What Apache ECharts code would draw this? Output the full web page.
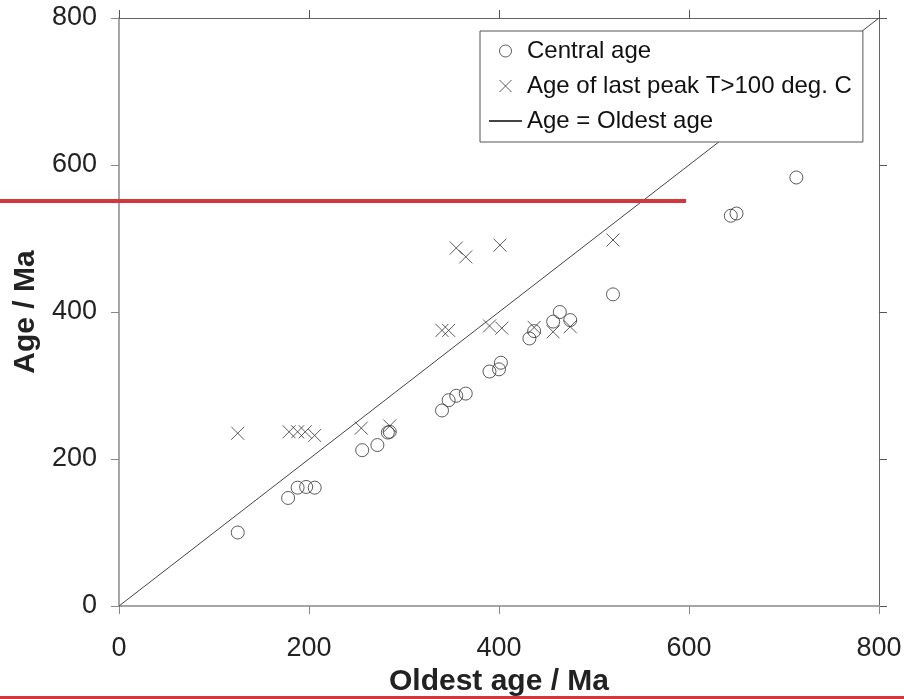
<!DOCTYPE html>
<html>
<head>
<meta charset="utf-8">
<script src="https://cdn.jsdelivr.net/npm/echarts@6/dist/echarts.min.js"></script>
<style>
  html, body { margin: 0; padding: 0; background: #fff; }
  #main { width: 904px; height: 699px; }
</style>
</head>
<body>
<div id="main"></div>
<script>
// oldest age vs central age (Ma)
const centralOldest = [125, 178, 188, 197, 206, 256, 272, 283, 285, 340, 347, 355, 365, 390, 400, 402, 432, 437, 457, 464, 475, 520, 644, 650, 713];
const centralAge    = [100, 147, 161, 162, 161, 212, 219, 236, 237, 266, 280, 286, 289, 319, 322, 331, 364, 374, 387, 400, 389, 424, 531, 534, 583];

// oldest age vs age of last peak T>100 deg. C
const peakOldest = [125, 179, 188, 196, 206, 255, 285, 340, 347, 355, 365, 390, 401, 403, 437, 457, 475, 520];
const peakAge    = [235, 237, 237, 237, 232, 242, 245, 375, 375, 487, 475, 381, 491, 378, 379, 373, 380, 498];

const oneToOne = [0, 800];
const axisTicks = [0, 200, 400, 600, 800];

const seriesNames = ['Central age', 'Age of last peak T>100 deg. C', 'Age = Oldest age'];
const crossPath = 'path://M0,0L10,10M10,0L0,10';

const chart = echarts.init(document.getElementById('main'));

const font = 'Liberation Sans, Arial, sans-serif';

// left/bottom axes are drawn paler and thicker than the top/right frame
function baseAxis(pos, extra) {
  const main = pos === 'left' || pos === 'bottom';
  return Object.assign({
    type: 'value',
    position: pos,
    min: axisTicks[0],
    max: axisTicks[axisTicks.length - 1],
    interval: axisTicks[1] - axisTicks[0],
    axisLine: { show: true, onZero: false, lineStyle: { color: main ? '#a6a6a6' : '#666', width: main ? 2 : 1 } },
    axisTick: { show: true, inside: false, length: 8, lineStyle: { color: main ? '#888' : '#555', width: 1 } },
    splitLine: { show: false },
    axisLabel: { show: false }
  }, extra);
}

const option = {
  backgroundColor: '#fff',
  animation: false,
  textStyle: { fontFamily: font },
  grid: { left: 119, right: 25, top: 18, bottom: 93, outerBoundsMode: 'none', containLabel: false },
  xAxis: [
    baseAxis('bottom', {
      axisLabel: { show: true, fontSize: 27, color: '#222', margin: 29, fontFamily: font },
      name: 'Oldest age / Ma',
      nameLocation: 'middle',
      nameGap: 61,
      nameTextStyle: { fontSize: 30, fontWeight: 'bold', color: '#222', fontFamily: font }
    }),
    baseAxis('top')
  ],
  yAxis: [
    baseAxis('left', {
      axisLabel: { show: true, fontSize: 27, color: '#222', margin: 22, fontFamily: font },
      name: 'Age / Ma',
      nameLocation: 'middle',
      nameGap: 74,
      nameTextStyle: { fontSize: 30, fontWeight: 'bold', color: '#222', fontFamily: font }
    }),
    baseAxis('right')
  ],
  legend: {
    orient: 'vertical',
    left: 480,
    top: 31,
    padding: [8, 11, 9, 8],
    itemWidth: 33,
    itemHeight: 12,
    itemGap: 11,
    backgroundColor: '#fff',
    borderColor: '#555',
    borderWidth: 1,
    borderRadius: 0,
    z: 10,
    textStyle: { fontSize: 24, color: '#111', lineHeight: 24, fontFamily: font },
    data: [
      { name: seriesNames[0], icon: 'circle', itemStyle: { color: 'transparent', borderColor: '#333', borderWidth: 1 } },
      { name: seriesNames[1], icon: crossPath, itemStyle: { color: 'transparent', borderColor: '#333', borderWidth: 1 } },
      { name: seriesNames[2], itemStyle: { opacity: 0 } }
    ]
  },
  graphic: [
    { type: 'rect', left: 0, top: 199, z: 100, shape: { width: 686, height: 4 }, style: { fill: '#d3363c' } },
    { type: 'rect', left: 0, top: 696, z: 100, shape: { width: 904, height: 3 }, style: { fill: '#d3363c' } }
  ],
  series: [
    {
      name: seriesNames[0],
      type: 'scatter',
      symbol: 'circle',
      symbolSize: 13,
      itemStyle: { color: 'transparent', borderColor: '#333', borderWidth: 1 },
      data: centralOldest.map((x, i) => [x, centralAge[i]]),
      z: 3
    },
    {
      name: seriesNames[1],
      type: 'scatter',
      symbol: crossPath,
      symbolSize: 13,
      itemStyle: { color: 'transparent', borderColor: '#333', borderWidth: 1 },
      data: peakOldest.map((x, i) => [x, peakAge[i]]),
      z: 3
    },
    {
      name: seriesNames[2],
      type: 'line',
      symbol: 'none',
      lineStyle: { color: '#444', width: 1 },
      itemStyle: { color: '#444' },
      data: oneToOne.map(v => [v, v]),
      z: 2
    }
  ]
};

chart.setOption(option);
</script>
</body>
</html>
